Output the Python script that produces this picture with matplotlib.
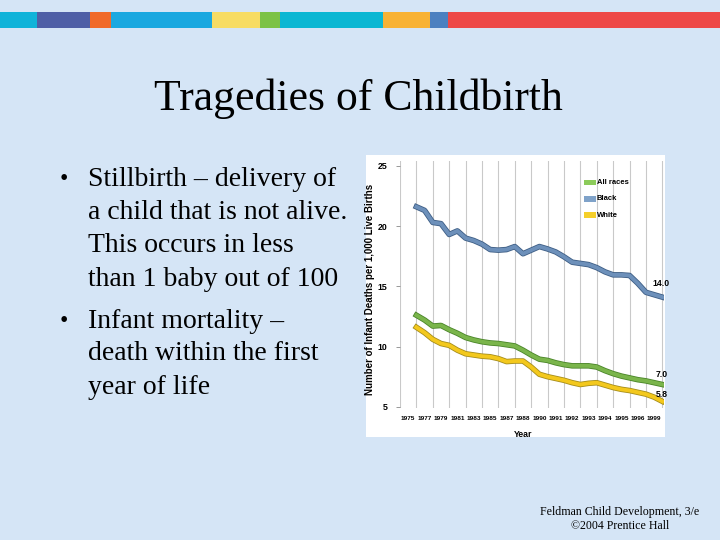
import matplotlib.pyplot as plt
import matplotlib.patheffects as pe
from matplotlib.patches import Rectangle

# slide text
title = "Tragedies of Childbirth"
bullets = [
    ["Stillbirth \u2013 delivery of", "a child that is not alive.", "This occurs in less", "than 1 baby out of 100"],
    ["Infant mortality \u2013", "death within the first", "year of life"],
]
footer = ["Feldman Child Development, 3/e", "\u00a92004 Prentice Hall"]

# chart data (31 points, half-interval steps between gridlines 1 and 16)
years = ["1975", "1977", "1979", "1981", "1983", "1985", "1987", "1988",
         "1990", "1991", "1992", "1993", "1994", "1995", "1996", "1999"]
black = [21.6, 21.3, 20.3, 20.2, 19.3, 19.6, 19.0, 18.8, 18.5, 18.05, 18.0,
         18.05, 18.3, 17.7, 18.0, 18.3, 18.1, 17.85, 17.45, 17.0, 16.9, 16.8,
         16.55, 16.2, 15.95, 15.95, 15.9, 15.25, 14.5, 14.3, 14.1]
all_races = [12.6, 12.2, 11.7, 11.75, 11.4, 11.1, 10.75, 10.55, 10.4, 10.3, 10.25,
             10.15, 10.05, 9.7, 9.3, 8.95, 8.85, 8.65, 8.5, 8.4, 8.4, 8.4,
             8.3, 8.0, 7.75, 7.55, 7.4, 7.25, 7.15, 7.0, 6.85]
white = [11.6, 11.15, 10.6, 10.25, 10.1, 9.7, 9.4, 9.3, 9.2, 9.15, 9.0,
         8.75, 8.8, 8.8, 8.3, 7.7, 7.5, 7.35, 7.2, 7.0, 6.85, 6.95,
         7.0, 6.8, 6.6, 6.45, 6.35, 6.2, 6.05, 5.8, 5.45]
end_labels = ["14.0", "7.0", "5.8"]
xs = [1 + i * 0.5 for i in range(len(black))]

fig = plt.figure(figsize=(7.2, 5.4), dpi=100)
fig.patch.set_facecolor("#d5e5f6")

# colour strip at the top
strip = [(0, 37, "#10b3d9"), (37, 90, "#4f5fa6"), (90, 111, "#f06a2a"),
         (111, 212, "#1aa8e0"), (212, 260, "#f7dc63"), (260, 280, "#7cc246"),
         (280, 383, "#0bb7d3"), (383, 430, "#f8b234"), (430, 448, "#4c80c0"),
         (448, 720, "#ee4847")]
for x0, x1, c in strip:
    fig.add_artist(Rectangle((x0 / 720, 1 - 28 / 540), (x1 - x0) / 720, 16 / 540,
                             transform=fig.transFigure, color=c, lw=0))

fig.text(0.498, 1 - 99 / 540, title, ha="center", va="center",
         family="Liberation Serif", fontsize=31.5)

y = 180
for item in bullets:
    fig.text(60 / 720, 1 - y / 540, "\u2022", ha="left", va="center",
             family="Liberation Serif", fontsize=17)
    for line in item:
        fig.text(88 / 720, 1 - y / 540, line, ha="left", va="center",
                 family="Liberation Serif", fontsize=20)
        y += 33
    y += 9

fig.text(620 / 720, 1 - 512 / 540, footer[0], ha="center", va="center",
         family="Liberation Serif", fontsize=8.6)
fig.text(620 / 720, 1 - 526 / 540, footer[1], ha="center", va="center",
         family="Liberation Serif", fontsize=8.6)

# white chart panel
fig.add_artist(Rectangle((366 / 720, 1 - 437 / 540), 299 / 720, 282 / 540,
                         transform=fig.transFigure, color="white", lw=0, zorder=0))

ax = fig.add_axes([400 / 720, 1 - 408 / 540, 264 / 720, 247 / 540])
ax.set_zorder(2)
ax.set_facecolor("none")
ax.set_xlim(0, 16.1)
ax.set_ylim(4.9, 25.4)
for s in ax.spines.values():
    s.set_visible(False)
for k in range(17):
    ax.axvline(k, color="#c9c9c9", lw=0.8, zorder=0)

narrow = ["Liberation Sans Narrow", "Liberation Sans", "DejaVu Sans"]
ax.set_xticks([k + 0.5 for k in range(16)])
ax.set_xticklabels(years, fontsize=4.6, family=narrow, fontweight="bold")
ax.tick_params(axis="x", length=0, pad=6)
ax.set_yticks([5, 10, 15, 20, 25])
ax.set_yticklabels(["5", "10", "15", "20", "25"], fontsize=6.3, family=narrow,
                   fontweight="bold")
ax.tick_params(axis="y", length=3, width=0.6, color="#888888", pad=6)
ax.set_xlabel("Year", fontsize=6.3, family=narrow, fontweight="bold")
ax.xaxis.set_label_coords(0.466, -0.09)
ax.set_ylabel("Number of Infant Deaths per 1,000 Live Births", fontsize=7,
              family=narrow, fontweight="bold")
ax.yaxis.set_label_coords(-0.095, 0.48)

series = [(black, "#6d90ba", "#3e5e85", "Black"),
          (all_races, "#7ab54b", "#4a8529", "All races"),
          (white, "#f3c81d", "#a58d1c", "White")]
for vals, fill, edge, name in series:
    ax.plot(xs, vals, color=fill, lw=2.8, solid_joinstyle="round",
            path_effects=[pe.Stroke(linewidth=4.0, foreground=edge), pe.Normal()])

ax.text(15.4, 15.0, end_labels[0], fontsize=6.2, family=narrow, fontweight="bold")
ax.text(15.6, 7.45, end_labels[1], fontsize=6.2, family=narrow, fontweight="bold")
ax.text(15.6, 5.8, end_labels[2], fontsize=6.2, family=narrow, fontweight="bold")

# legend
leg = [("All races", "#8ccb5a"), ("Black", "#7fa2c9"), ("White", "#f5cf2a")]
for i, (name, c) in enumerate(leg):
    yy = 23.6 - i * 1.35
    ax.add_patch(Rectangle((11.2, yy - 0.22), 0.75, 0.45, color=c, lw=0))
    ax.text(12.0, yy, name, fontsize=5.5, family=narrow, fontweight="bold",
            va="center")

fig.savefig("out.png", dpi=100, facecolor=fig.get_facecolor())
